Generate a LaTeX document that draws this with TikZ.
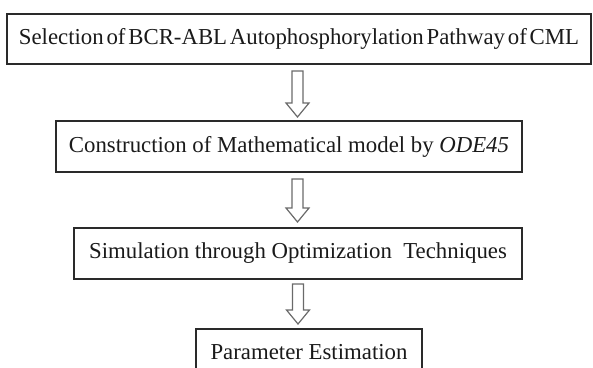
\documentclass[tikz,border=0pt]{standalone}
\usepackage{fontspec}
\setmainfont{Liberation Serif}
\usetikzlibrary{calc}
\definecolor{boxline}{HTML}{2A2A2A}
\definecolor{arrline}{HTML}{6A6A6A}
\definecolor{txt}{HTML}{1A1A1A}
\tikzset{
  flowbox/.style={draw=boxline, line width=1.4pt, inner sep=0pt, text=txt,
    font=\fontsize{22.8}{26}\selectfont, align=center},
  hollowarrow/.style={draw=arrline, line width=1.2pt, fill=white, line join=miter}
}
\newcommand{\hollowarr}[2]{%
  \draw[hollowarrow] ($(#1)+(-5.5,0)$) -- ($(#2)+(-5.5,-14)$) -- ($(#2)+(-11.5,-14)$)
    -- (#2) -- ($(#2)+(11.5,-14)$) -- ($(#2)+(5.5,-14)$) -- ($(#1)+(5.5,0)$) -- cycle;}
\begin{document}
\begin{tikzpicture}[x=1pt, y=-1pt]
\useasboundingbox (0,0) rectangle (593,367);
\node[flowbox, minimum width=584pt, minimum height=50pt] (b1) at (299,39)
  {\spaceskip=2.8pt plus 1pt\relax Selection of BCR-ABL Autophosphorylation Pathway of CML};
\node[flowbox, minimum width=466pt, minimum height=51pt] (b2) at (289,146.5)
  {Construction of Mathematical model by \textit{ODE45}};
\node[flowbox, minimum width=448pt, minimum height=51pt] (b3) at (298,253.5)
  {Simulation through Optimization\ \ Techniques};
\node[flowbox, minimum width=226pt, minimum height=46pt] (b4) at (309,352)
  {Parameter Estimation};
\coordinate (t1) at (297.5,71);  \coordinate (h1) at (297.5,117);
\coordinate (t2) at (297.5,179); \coordinate (h2) at (297.5,222);
\coordinate (t3) at (298,284);   \coordinate (h3) at (298,324);
\hollowarr{t1}{h1}
\hollowarr{t2}{h2}
\hollowarr{t3}{h3}
\end{tikzpicture}
\end{document}
